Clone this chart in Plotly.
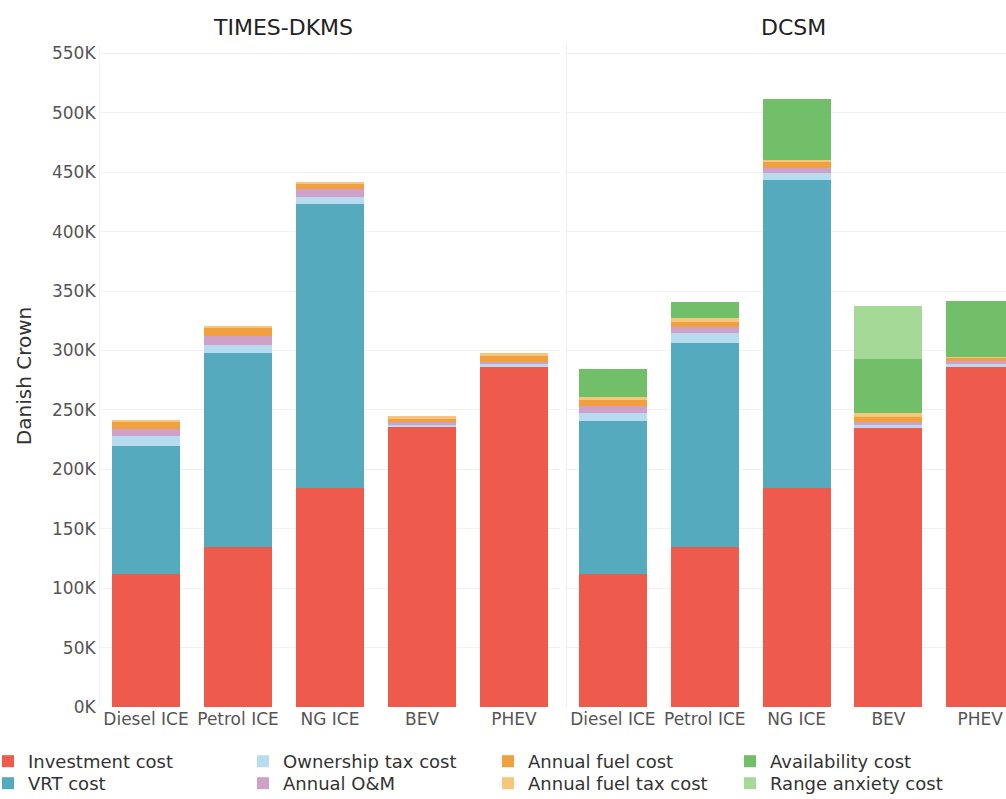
import plotly.graph_objects as go

categories = ["Diesel ICE", "Petrol ICE", "NG ICE", "BEV", "PHEV"]
panels = ["TIMES-DKMS", "DCSM"]

series_names = ["Investment cost", "VRT cost", "Ownership tax cost", "Annual O&M",
                "Annual fuel cost", "Annual fuel tax cost", "Availability cost",
                "Range anxiety cost"]
series_colors = ["#EE5B4C", "#56AABD", "#B7DCF0", "#CFA0C8",
                 "#F0A03F", "#F8C57D", "#71BF68", "#A5D997"]
# legend layout: row 1 / row 2, and per-entry widths (columns)
series_legend = ["legend", "legend2", "legend", "legend2",
                 "legend", "legend2", "legend", "legend2"]
series_legendwidth = [210, 210, 200, 200, 197, 197, 200, 200]

# TIMES-DKMS values (Danish Crown)
times_investment = [112000, 135000, 184000, 236000, 286000]
times_vrt = [108000, 162500, 239500, 0, 0]
times_ownership = [8400, 6700, 5900, 2000, 2500]
times_om = [5900, 7600, 6700, 1500, 1700]
times_fuel = [5700, 6700, 4200, 3000, 5000]
times_fueltax = [1800, 1700, 1500, 2000, 2500]
times_availability = [0, 0, 0, 0, 0]
times_range = [0, 0, 0, 0, 0]

# DCSM values (Danish Crown)
dcsm_investment = [112000, 135000, 184000, 235000, 286000]
dcsm_vrt = [129000, 171000, 259000, 0, 0]
dcsm_ownership = [6700, 8400, 6700, 2500, 3000]
dcsm_om = [5900, 5000, 4200, 2000, 2500]
dcsm_fuel = [5000, 4200, 5000, 4200, 2500]
dcsm_fueltax = [2500, 3400, 1700, 4000, 800]
dcsm_availability = [23500, 13400, 51200, 45400, 47000]
dcsm_range = [0, 0, 0, 44000, 0]

tick_vals = [0, 50000, 100000, 150000, 200000, 250000, 300000, 350000,
             400000, 450000, 500000, 550000]
tick_text = ["0K", "50K", "100K", "150K", "200K", "250K", "300K", "350K",
             "400K", "450K", "500K", "550K"]

times_series = [times_investment, times_vrt, times_ownership, times_om,
                times_fuel, times_fueltax, times_availability, times_range]
dcsm_series = [dcsm_investment, dcsm_vrt, dcsm_ownership, dcsm_om,
               dcsm_fuel, dcsm_fueltax, dcsm_availability, dcsm_range]

FONT = "DejaVu Sans, Verdana, sans-serif"

fig = go.Figure()
for i, name in enumerate(series_names):
    fig.add_trace(go.Bar(
        x=categories, y=times_series[i], name=name,
        marker=dict(color=series_colors[i], line=dict(width=0)),
        legend=series_legend[i], legendwidth=series_legendwidth[i],
        xaxis="x", yaxis="y", showlegend=True,
    ))
    fig.add_trace(go.Bar(
        x=categories, y=dcsm_series[i], name=name,
        marker=dict(color=series_colors[i], line=dict(width=0)),
        legend=series_legend[i],
        xaxis="x2", yaxis="y2", showlegend=False,
    ))

W, H = 1006, 799
ml, mr, mt, mb = 100, 0, 45, 92
pw = W - ml - mr
ph = H - mt - mb

def px_x(p):
    return (p - ml) / pw

def px_y(p):
    return (H - mb - p) / ph

axis_common = dict(showgrid=False, ticks="", showline=False, zeroline=False,
                   automargin=False,
                   tickfont=dict(family=FONT, size=17, color="#555555"))
legend_common = dict(orientation="h", xanchor="left", yanchor="top",
                     entrywidthmode="pixels", traceorder="normal",
                     bgcolor="rgba(0,0,0,0)", borderwidth=0,
                     font=dict(family=FONT, size=18, color="#333333"),
                     itemclick=False, itemdoubleclick=False, tracegroupgap=0)
fig.update_layout(
    width=W, height=H,
    margin=dict(l=ml, r=mr, t=mt, b=mb, autoexpand=False),
    paper_bgcolor="white", plot_bgcolor="white",
    barmode="stack", bargap=0.26,
    font=dict(family=FONT, color="#333333"),
    xaxis=dict(domain=[0, px_x(560)], range=[-0.5, 4.5], **axis_common),
    xaxis2=dict(domain=[px_x(567), 1], range=[-0.5, 4.28], anchor="y2", **axis_common),
    yaxis=dict(range=[0, 557000], tickvals=tick_vals, ticktext=tick_text,
               showgrid=True, gridcolor="#f1f1f1", gridwidth=1, zeroline=False,
               showline=True, linecolor="#f1f1f1", ticks="", automargin=False,
               tickfont=dict(family=FONT, size=17, color="#555555"),
               title=dict(text="Danish Crown", font=dict(family=FONT, size=20, color="#333333"),
                          standoff=14)),
    yaxis2=dict(range=[0, 557000], tickvals=tick_vals, showticklabels=False,
                showgrid=True, gridcolor="#f1f1f1", gridwidth=1, zeroline=False,
                showline=True, linecolor="#eeeeee", ticks="", anchor="x2", automargin=False),
    legend=dict(x=px_x(-12), y=px_y(743), **legend_common),
    legend2=dict(x=px_x(-12), y=px_y(765), **legend_common),
    annotations=[
        dict(text="TIMES-DKMS", x=px_x(283), y=px_y(28), xref="paper", yref="paper",
             xanchor="center", yanchor="middle",
             showarrow=False, font=dict(family=FONT, size=22, color="#222222")),
        dict(text="DCSM", x=px_x(793), y=px_y(28), xref="paper", yref="paper",
             xanchor="center", yanchor="middle",
             showarrow=False, font=dict(family=FONT, size=22, color="#222222")),
    ],
)

fig.write_html("out.html", config={"displayModeBar": False},
               post_script="document.body.style.margin='0';")
